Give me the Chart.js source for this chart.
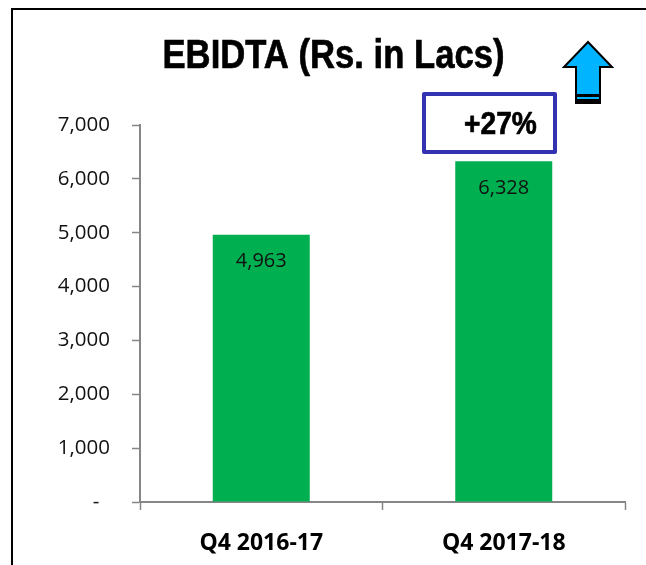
<!DOCTYPE html>
<html lang="en">
<head>
    <meta charset="UTF-8">
    <title>EBIDTA</title>
    <script src="https://cdn.jsdelivr.net/npm/chart.js"></script>
    <style>
        html, body { margin: 0; padding: 0; background: #fff; }
        canvas { display: block; }
    </style>
</head>
<body>
    <canvas id="grafico" width="646" height="565"></canvas>
    <script>
        const categorias = ['Q4 2016-17', 'Q4 2017-18']
        const ebidta = [4963, 6328]
        const yMax = 7000
        const yStep = 1000

        const eixoCor = '#868686'
        const textoFonte = '"Open Sans", sans-serif'

        // texto em Liberation Sans apertado na horizontal
        function textoEstreito(c, texto, x, y, tamanho, escala) {
            c.save()
            c.translate(x, y)
            c.scale(escala, 1)
            c.font = 'bold ' + tamanho + 'px "Liberation Sans", sans-serif'
            c.lineWidth = 0.7
            c.strokeStyle = '#000'
            c.fillText(texto, 0, 0)
            c.strokeText(texto, 0, 0)
            c.restore()
        }

        // moldura, titulo, caixa do +27% e a seta
        const decoracao = {
            id: 'decoracao',
            afterDraw(chart) {
                const c = chart.ctx
                c.save()

                c.strokeStyle = '#000'
                c.lineWidth = 2
                c.beginPath()
                c.moveTo(12, 565)
                c.lineTo(12, 9)
                c.lineTo(646, 9)
                c.stroke()

                c.fillStyle = '#000'
                c.textAlign = 'center'
                c.textBaseline = 'alphabetic'
                textoEstreito(c, 'EBIDTA (Rs. in Lacs)', 333.5, 68, 41, 0.845)

                c.strokeStyle = '#3333b2'
                c.lineWidth = 4
                c.lineJoin = 'round'
                c.strokeRect(424, 94, 131, 58)
                c.fillStyle = '#000'
                textoEstreito(c, '+27%', 500.5, 134, 32, 0.88)

                c.lineJoin = 'miter'
                c.fillStyle = '#00b4ff'
                c.strokeStyle = '#000'
                c.lineWidth = 2
                c.beginPath()
                c.moveTo(588, 42)
                c.lineTo(612, 67)
                c.lineTo(600, 67)
                c.lineTo(600, 103)
                c.lineTo(576, 103)
                c.lineTo(576, 67)
                c.lineTo(564, 67)
                c.closePath()
                c.fill()
                c.stroke()
                c.fillStyle = '#000'
                c.fillRect(576, 94, 24, 3)
                c.fillRect(576, 99, 24, 4)

                c.restore()
            }
        }

        // rotulo de valor dentro de cada barra
        const rotulos = {
            id: 'rotulos',
            afterDatasetsDraw(chart) {
                const c = chart.ctx
                c.save()
                c.fillStyle = '#111'
                c.font = '20px ' + textoFonte
                c.textAlign = 'center'
                c.textBaseline = 'middle'
                chart.getDatasetMeta(0).data.forEach((barra, i) => {
                    c.fillText(ebidta[i].toLocaleString('en-US'), barra.x, barra.y + 27)
                })
                c.restore()
            }
        }

        new Chart(document.getElementById('grafico'), {
            type: 'bar',
            data: {
                labels: categorias,
                datasets: [{
                    data: ebidta,
                    backgroundColor: '#00b050',
                    categoryPercentage: 1,
                    barPercentage: 0.4
                }]
            },
            options: {
                responsive: false,
                animation: false,
                layout: { padding: { top: 125, right: 21, bottom: 0, left: 0 } },
                plugins: { legend: { display: false }, tooltip: { enabled: false } },
                scales: {
                    x: {
                        afterFit(scale) { scale.height = 63 },
                        border: { color: eixoCor, width: 2 },
                        grid: { drawOnChartArea: false, color: eixoCor, tickLength: 8, tickWidth: 1.5 },
                        ticks: {
                            color: '#000',
                            padding: 20,
                            font: { family: textoFonte, size: 23, weight: 'bold' }
                        }
                    },
                    y: {
                        min: 0,
                        max: yMax,
                        afterFit(scale) { scale.width = 140 },
                        border: { color: eixoCor, width: 2 },
                        grid: { drawOnChartArea: false, color: eixoCor, tickLength: 8, tickWidth: 1.5 },
                        ticks: {
                            stepSize: yStep,
                            color: '#111',
                            padding: 22,
                            font: { family: textoFonte, size: 20.5 },
                            callback: v => v === 0 ? '-  ' : v.toLocaleString('en-US')
                        }
                    }
                }
            },
            plugins: [rotulos, decoracao]
        })
    </script>
</body>
</html>
